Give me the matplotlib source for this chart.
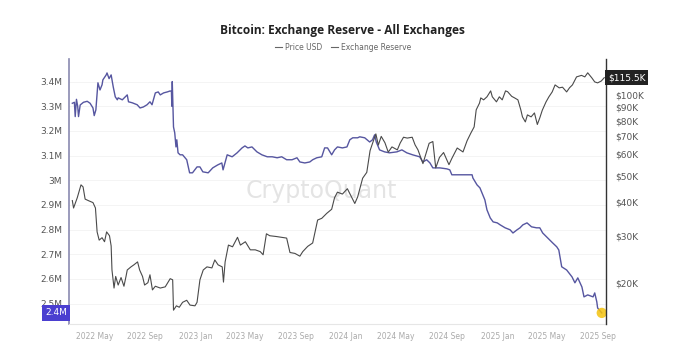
import matplotlib
matplotlib.use("Agg")
import matplotlib.pyplot as plt
import matplotlib.dates as mdates
import matplotlib.transforms as mtransforms
from matplotlib.lines import Line2D
import matplotlib.ticker as mticker
from matplotlib import font_manager
import pandas as pd

# ---------------- data ----------------
price_dates = [
    "2022-03-09", "2022-03-12", "2022-03-21", "2022-03-30", "2022-04-04", "2022-04-09",
    "2022-04-18", "2022-04-28", "2022-05-04", "2022-05-08", "2022-05-13", "2022-05-20",
    "2022-05-26", "2022-05-31", "2022-06-07", "2022-06-11", "2022-06-13", "2022-06-18",
    "2022-06-22", "2022-06-28", "2022-07-05", "2022-07-12", "2022-07-17", "2022-07-20",
    "2022-07-29", "2022-08-05", "2022-08-14", "2022-08-19", "2022-08-26", "2022-08-31",
    "2022-09-08", "2022-09-13", "2022-09-19", "2022-09-26", "2022-10-08", "2022-10-20",
    "2022-11-01", "2022-11-07", "2022-11-09", "2022-11-16", "2022-11-23", "2022-12-01",
    "2022-12-11", "2022-12-19", "2022-12-31", "2023-01-05", "2023-01-12", "2023-01-20",
    "2023-01-29", "2023-02-10", "2023-02-17", "2023-02-25", "2023-03-07", "2023-03-10",
    "2023-03-14", "2023-03-22", "2023-04-01", "2023-04-13", "2023-04-20", "2023-05-02",
    "2023-05-14", "2023-05-26", "2023-06-07", "2023-06-14", "2023-06-22", "2023-06-30",
    "2023-07-16", "2023-08-10", "2023-08-18", "2023-08-30", "2023-09-11", "2023-09-18",
    "2023-09-30", "2023-10-12", "2023-10-24", "2023-11-03", "2023-11-15", "2023-11-27",
    "2023-12-04", "2023-12-11", "2023-12-23", "2024-01-04", "2024-01-14", "2024-01-22",
    "2024-01-29", "2024-02-10", "2024-02-20", "2024-02-28", "2024-03-05", "2024-03-13",
    "2024-03-19", "2024-03-26", "2024-04-04", "2024-04-12", "2024-04-21", "2024-05-04",
    "2024-05-11", "2024-05-19", "2024-05-28", "2024-06-09", "2024-06-16", "2024-06-23",
    "2024-07-05", "2024-07-20", "2024-07-29", "2024-08-05", "2024-08-14", "2024-08-24",
    "2024-09-06", "2024-09-13", "2024-09-26", "2024-10-10", "2024-10-20", "2024-10-29",
    "2024-11-06", "2024-11-11", "2024-11-19", "2024-11-22", "2024-11-29", "2024-12-07",
    "2024-12-16", "2024-12-20", "2024-12-30", "2025-01-06", "2025-01-13", "2025-01-21",
    "2025-01-26", "2025-02-05", "2025-02-12", "2025-02-20", "2025-02-27", "2025-03-03",
    "2025-03-10", "2025-03-15", "2025-03-24", "2025-04-01", "2025-04-08", "2025-04-14",
    "2025-04-20", "2025-04-29", "2025-05-06", "2025-05-14", "2025-05-21", "2025-05-31",
    "2025-06-08", "2025-06-18", "2025-06-25", "2025-07-02", "2025-07-12", "2025-07-24",
    "2025-08-01", "2025-08-08", "2025-08-18", "2025-08-25", "2025-09-01", "2025-09-10",
    "2025-09-17",
]
price_usd = [
    40.5, 38.0, 41.5, 46.3, 45.5, 41.0,
    40.4, 39.8, 38.0, 31.0, 28.9, 29.5,
    28.5, 31.0, 30.0, 27.5, 22.4, 19.2,
    21.2, 19.7, 21.0, 19.5, 21.2, 22.4,
    23.0, 23.4, 24.0, 22.4, 21.2, 19.7,
    20.1, 21.5, 18.9, 19.5, 19.2, 19.4,
    20.8, 20.6, 15.9, 16.5, 16.3, 17.0,
    17.3, 16.6, 16.5, 17.0, 20.6, 22.4,
    23.0, 22.8, 24.4, 23.4, 23.0, 20.2,
    24.0, 27.7, 27.3, 29.6, 27.7, 28.5,
    26.6, 26.6, 26.2, 25.5, 30.5, 30.0,
    29.8, 29.4, 26.0, 25.8, 25.2, 26.2,
    27.4, 28.2, 34.3, 34.8, 36.3, 37.6,
    41.5, 43.5, 42.8, 44.8, 41.8, 39.5,
    41.8, 49.0, 51.5, 62.0, 66.0, 71.5,
    65.0, 70.0, 66.3, 61.2, 64.0, 62.4,
    66.2, 69.5, 69.0, 69.5, 65.1, 62.4,
    55.5, 66.0, 67.0, 53.5, 58.5, 61.0,
    55.0, 58.0, 63.4, 61.3, 67.5, 72.0,
    75.9, 87.8, 93.0, 97.2, 95.6, 98.1,
    103.2, 98.1, 94.0, 98.1, 95.6, 103.2,
    102.5, 98.5, 97.2, 95.6, 87.8, 82.7,
    79.2, 84.1, 82.7, 85.5, 77.5, 82.0,
    87.5, 93.9, 98.1, 102.3, 108.6, 105.9,
    106.5, 102.3, 106.0, 108.6, 116.3, 117.8,
    116.3, 120.4, 115.3, 111.4, 110.5, 112.3,
    115.5,
]

reserve_dates = [
    "2022-03-09", "2022-03-14", "2022-03-16", "2022-03-19", "2022-03-22", "2022-03-24",
    "2022-03-28", "2022-04-05", "2022-04-14", "2022-04-21", "2022-04-28", "2022-05-01",
    "2022-05-05", "2022-05-08", "2022-05-10", "2022-05-15", "2022-05-20", "2022-05-22",
    "2022-05-30", "2022-06-01", "2022-06-06", "2022-06-11", "2022-06-16", "2022-06-21",
    "2022-06-26", "2022-06-28", "2022-07-08", "2022-07-15", "2022-07-20", "2022-07-23",
    "2022-08-01", "2022-08-13", "2022-08-20", "2022-08-28", "2022-09-06", "2022-09-13",
    "2022-09-18", "2022-09-26", "2022-10-03", "2022-10-08", "2022-10-16", "2022-10-25",
    "2022-11-01", "2022-11-04", "2022-11-05", "2022-11-06", "2022-11-09", "2022-11-12",
    "2022-11-15", "2022-11-17", "2022-11-20", "2022-11-25", "2022-12-01", "2022-12-11",
    "2022-12-18", "2022-12-25", "2023-01-05", "2023-01-12", "2023-01-19", "2023-02-01",
    "2023-02-12", "2023-02-24", "2023-03-06", "2023-03-09", "2023-03-19", "2023-03-31",
    "2023-04-12", "2023-04-24", "2023-05-01", "2023-05-08", "2023-05-18", "2023-05-30",
    "2023-06-11", "2023-06-24", "2023-07-06", "2023-07-18", "2023-07-29", "2023-08-10",
    "2023-08-23", "2023-09-04", "2023-09-11", "2023-09-23", "2023-10-05", "2023-10-12",
    "2023-10-22", "2023-11-03", "2023-11-10", "2023-11-17", "2023-11-27", "2023-12-04",
    "2023-12-11", "2023-12-23", "2024-01-03", "2024-01-10", "2024-01-17", "2024-01-29",
    "2024-02-03", "2024-02-15", "2024-02-27", "2024-03-05", "2024-03-10", "2024-03-14",
    "2024-03-22", "2024-04-03", "2024-04-15", "2024-05-03", "2024-05-15", "2024-05-27",
    "2024-06-10", "2024-06-27", "2024-07-05", "2024-07-14", "2024-07-22", "2024-07-29",
    "2024-08-15", "2024-09-01", "2024-09-08", "2024-09-13", "2024-09-25", "2024-10-10",
    "2024-11-01", "2024-11-03", "2024-11-13", "2024-11-20", "2024-11-25", "2024-12-02",
    "2024-12-07", "2024-12-15", "2024-12-22", "2025-01-01", "2025-01-08", "2025-01-20",
    "2025-02-01", "2025-02-08", "2025-02-18", "2025-02-25", "2025-03-04", "2025-03-14",
    "2025-03-25", "2025-04-06", "2025-04-14", "2025-04-21", "2025-05-03", "2025-05-15",
    "2025-05-25", "2025-05-30", "2025-06-06", "2025-06-18", "2025-07-01", "2025-07-08",
    "2025-07-15", "2025-07-25", "2025-07-30", "2025-08-08", "2025-08-21", "2025-08-25",
    "2025-08-30", "2025-09-01", "2025-09-11",
]
reserve_btc_m = [
    3.312, 3.316, 3.258, 3.328, 3.300, 3.258,
    3.305, 3.316, 3.320, 3.312, 3.293, 3.262,
    3.285, 3.354, 3.395, 3.366, 3.387, 3.407,
    3.427, 3.435, 3.412, 3.427, 3.379, 3.338,
    3.326, 3.334, 3.326, 3.338, 3.346, 3.318,
    3.314, 3.306, 3.293, 3.297, 3.306, 3.318,
    3.306, 3.354, 3.358, 3.346, 3.354, 3.358,
    3.362, 3.360, 3.300, 3.400, 3.216, 3.192,
    3.135, 3.164, 3.111, 3.103, 3.103, 3.083,
    3.030, 3.030, 3.054, 3.054, 3.034, 3.030,
    3.050, 3.062, 3.070, 3.042, 3.103, 3.095,
    3.111, 3.131, 3.139, 3.131, 3.135, 3.115,
    3.103, 3.095, 3.095, 3.091, 3.095, 3.083,
    3.083, 3.091, 3.074, 3.070, 3.074, 3.083,
    3.091, 3.095, 3.131, 3.131, 3.103, 3.123,
    3.135, 3.131, 3.135, 3.164, 3.172, 3.172,
    3.176, 3.172, 3.155, 3.164, 3.184, 3.155,
    3.123, 3.115, 3.111, 3.115, 3.123, 3.111,
    3.103, 3.095, 3.074, 3.083, 3.070, 3.050,
    3.050, 3.046, 3.042, 3.022, 3.022, 3.022,
    3.022, 3.009, 2.981, 2.969, 2.949, 2.920,
    2.880, 2.847, 2.831, 2.827, 2.819, 2.807,
    2.799, 2.786, 2.799, 2.807, 2.819, 2.827,
    2.811, 2.807, 2.807, 2.786, 2.766, 2.746,
    2.730, 2.717, 2.649, 2.636, 2.608, 2.584,
    2.604, 2.567, 2.527, 2.535, 2.527, 2.543,
    2.507, 2.482, 2.462,
]

left_ticks = [2.5, 2.6, 2.7, 2.8, 2.9, 3.0, 3.1, 3.2, 3.3, 3.4]
left_labels = ["2.5M", "2.6M", "2.7M", "2.8M", "2.9M", "3M", "3.1M", "3.2M", "3.3M", "3.4M"]
right_ticks = [20, 30, 40, 50, 60, 70, 80, 90, 100]
right_labels = ["$20K", "$30K", "$40K", "$50K", "$60K", "$70K", "$80K", "$90K", "$100K"]
x_ticks = ["2022-05-01", "2022-09-01", "2023-01-01", "2023-05-01", "2023-09-01", "2024-01-01",
           "2024-05-01", "2024-09-01", "2025-01-01", "2025-05-01", "2025-09-01"]
reserve_label = "2.4M"
price_label = "$115.5K"

# ---------------- figure ----------------
pd_price_dates = pd.to_datetime(price_dates)
pd_res_dates = pd.to_datetime(reserve_dates)

installed = {f.name for f in font_manager.fontManager.ttflist}
title_family = "Liberation Sans Narrow" if "Liberation Sans Narrow" in installed else "Open Sans"
title_size = 11 if title_family == "Liberation Sans Narrow" else 8.6

fig = plt.figure(figsize=(6.8, 3.59), dpi=100)
ax = fig.add_axes([0.1015, 0.0975, 0.7895, 0.7385])
ax2 = ax.twinx()

reserve_color = "#5656a0"
price_color = "#4a4a4a"

ax.plot(pd_res_dates, reserve_btc_m, color=reserve_color, lw=1.0, zorder=3)
ax2.plot(pd_price_dates, price_usd, color=price_color, lw=0.8, zorder=3)

ax.set_ylim(2.417, 3.492)
ax2.set_yscale("log")
ax2.set_ylim(14.13, 135.6)
ax.set_xlim(pd.Timestamp("2022-03-01"), pd.Timestamp("2025-09-21"))

ax.set_yticks(left_ticks)
ax.set_yticklabels(left_labels)
ax2.set_yticks(right_ticks)
ax2.set_yticklabels(right_labels)
ax2.yaxis.set_minor_locator(mticker.NullLocator())
ax2.yaxis.set_minor_formatter(mticker.NullFormatter())

ax.set_xticks(pd.to_datetime(x_ticks))
ax.xaxis.set_major_formatter(mdates.DateFormatter("%Y %b"))

ax.tick_params(axis="y", length=0, pad=5, labelsize=6.5, labelcolor="#555555")
ax2.tick_params(axis="y", length=0, pad=7, labelsize=6.5, labelcolor="#555555")
ax.tick_params(axis="x", length=0, pad=6, labelsize=5.5, labelcolor="#aaaaaa")

ax.grid(axis="y", color="#f2f2f2", lw=0.6)
ax.set_axisbelow(True)

for a in (ax, ax2):
    a.spines["top"].set_visible(False)
ax.spines["left"].set_color("#8a8ab0")
ax.spines["left"].set_linewidth(1.2)
ax.spines["right"].set_visible(False)
ax2.spines["left"].set_visible(False)
ax2.spines["right"].set_color("#333333")
ax2.spines["right"].set_linewidth(1.0)
ax.spines["bottom"].set_color("#e6e6e6")
ax2.spines["bottom"].set_visible(False)

# watermark
ax.text(0.47, 0.5, "CryptoQuant", transform=ax.transAxes, ha="center", va="center",
        fontsize=17, color="#e4e4e4", zorder=1, family="DejaVu Sans")

# end markers
ax.scatter([pd_res_dates[-1]], [reserve_btc_m[-1]], s=55, color="#f4c20d", alpha=0.85,
           zorder=5, edgecolors="none")

trans_l = mtransforms.blended_transform_factory(ax.transAxes, ax.transData)
ax.text(-0.004, reserve_btc_m[-1], reserve_label, transform=trans_l, ha="right", va="center",
        fontsize=6.5, color="white", zorder=10,
        bbox=dict(boxstyle="square,pad=0.35", fc="#4b3fd0", ec="none"))
trans_r = mtransforms.blended_transform_factory(ax2.transAxes, ax2.transData)
ax2.text(1.004, price_usd[-1], price_label, transform=trans_r, ha="left", va="center",
         fontsize=6.5, color="white", zorder=10, clip_on=False,
         bbox=dict(boxstyle="square,pad=0.3", fc="#222222", ec="none"))

# title & legend
fig.text(0.503, 0.915, "Bitcoin: Exchange Reserve - All Exchanges", ha="center", va="center",
         fontsize=title_size, fontweight="bold", color="#222222", family=title_family)
handles = [Line2D([], [], color="#666666", lw=0.8), Line2D([], [], color="#666666", lw=0.8)]
fig.legend(handles, ["Price USD", "Exchange Reserve"], loc="center", bbox_to_anchor=(0.505, 0.868),
           ncol=2, frameon=False, fontsize=5.5, handlelength=0.9, handletextpad=0.4,
           columnspacing=1.2, labelcolor="#666666")

fig.savefig("out.png", dpi=100)
